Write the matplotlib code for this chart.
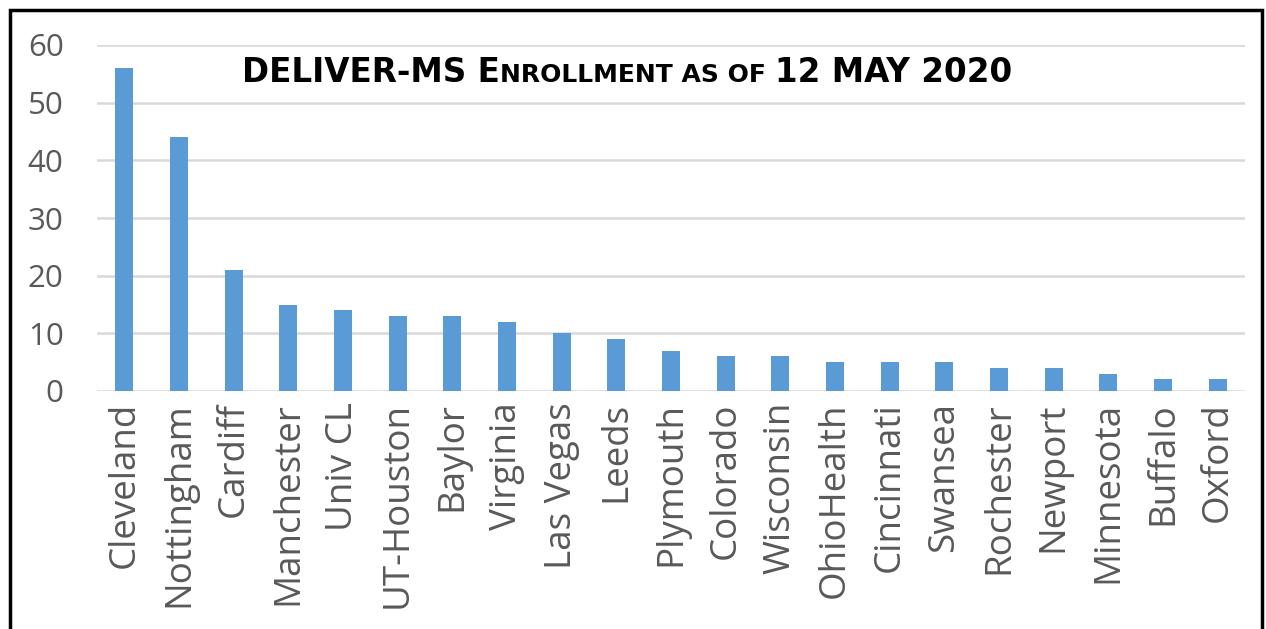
import matplotlib.pyplot as plt
from matplotlib.patches import Rectangle
from matplotlib.offsetbox import TextArea, HPacker, AnchoredOffsetbox

# данные
sites = ["Cleveland", "Nottingham", "Cardiff", "Manchester", "Univ CL", "UT-Houston",
         "Baylor", "Virginia", "Las Vegas", "Leeds", "Plymouth", "Colorado",
         "Wisconsin", "OhioHealth", "Cincinnati", "Swansea", "Rochester", "Newport",
         "Minnesota", "Buffalo", "Oxford"]
enrolled = [56, 44, 21, 15, 14, 13, 13, 12, 10, 9, 7, 6, 6, 5, 5, 5, 4, 4, 3, 2, 2]
yticks = [0, 10, 20, 30, 40, 50, 60]

plt.rcParams['font.family'] = ['Open Sans', 'DejaVu Sans']

fig = plt.figure(figsize=(12.66, 6.29), dpi=100)
ax = fig.add_axes([97/1266, (629-391)/629, (1245-97)/1266, (391-45)/629])

x = range(len(sites))
ax.bar(x, enrolled, width=0.33, color="#5b9bd5", zorder=3)
ax.set_xlim(-0.5, len(sites)-0.5)
ax.set_ylim(0, 60)
ax.set_yticks(yticks)
ax.set_xticks(list(x))
ax.set_xticklabels(sites, rotation=90)
ax.tick_params(axis='x', length=0, labelsize=26.5, colors="#595959", pad=8)
ax.tick_params(axis='y', length=0, labelsize=22.5, colors="#595959", pad=24)
ax.grid(axis='y', color="#d9d9d9", lw=1.8, zorder=0)
for s in ax.spines.values():
    s.set_visible(False)

# заголовок с капителью
big, small = 23.5, 18
tp = dict(weight='bold', family='DejaVu Sans', color='black')
parts = [TextArea("DELIVER-MS E", textprops=dict(size=big, **tp)),
         TextArea("NROLLMENT AS OF ", textprops=dict(size=small, **tp)),
         TextArea("12 MAY 2020", textprops=dict(size=big, **tp))]
box = HPacker(children=parts, align="baseline", pad=0, sep=0)
anch = AnchoredOffsetbox(loc='center', child=box, frameon=False,
                         bbox_to_anchor=(627/1266, 1-72/629), bbox_transform=fig.transFigure)
fig.add_artist(anch)

# рамка
fig.add_artist(Rectangle((10/1266, -0.1), (1262-10)/1266, 1.1-10/629,
                         transform=fig.transFigure, fill=False, ec='black', lw=2.5))

plt.savefig("out.png", dpi=100)
